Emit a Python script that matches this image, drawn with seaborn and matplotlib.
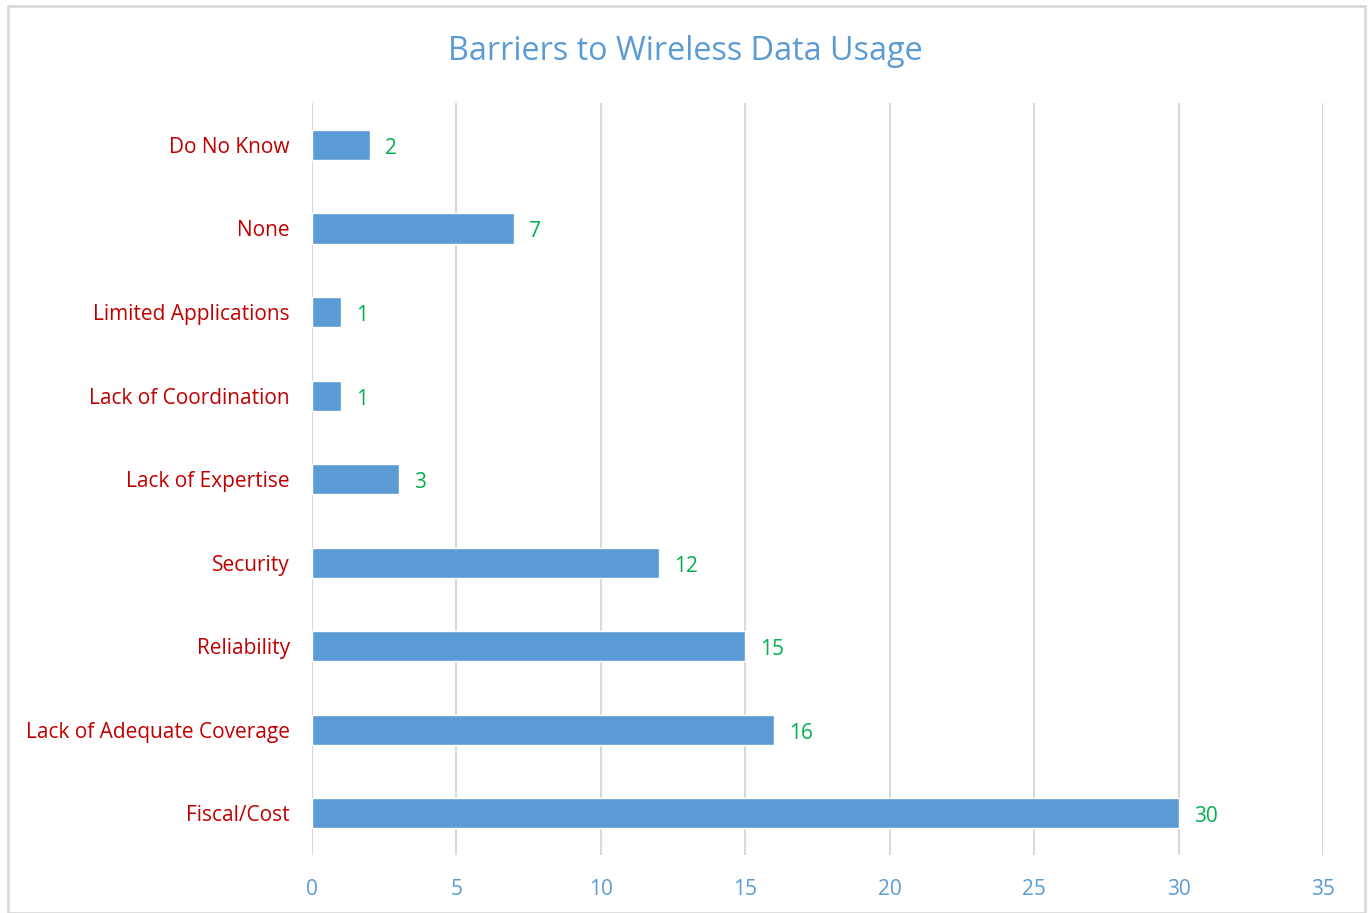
import pandas as pd
import matplotlib.pyplot as plt
import seaborn as sns
from matplotlib.patches import Rectangle

categories = ['Do No Know', 'None', 'Limited Applications', 'Lack of Coordination',
              'Lack of Expertise', 'Security', 'Reliability',
              'Lack of Adequate Coverage', 'Fiscal/Cost']
counts = [2, 7, 1, 1, 3, 12, 15, 16, 30]
x_ticks = [0, 5, 10, 15, 20, 25, 30, 35]

df = pd.DataFrame({'barrier': categories, 'count': counts})

sns.set_style('white')
plt.rcParams['font.family'] = ['Open Sans', 'DejaVu Sans']

fig = plt.figure(figsize=(13.7, 9.13), dpi=100)
ax = fig.add_axes([0.2277, 0.0635, 0.738, 0.8235])

sns.barplot(data=df, x='count', y='barrier', order=categories, orient='h',
            color='#5B9BD5', saturation=1, width=0.36, ax=ax)

ax.set_xlim(0, 35)
ax.set_ylim(8.5, -0.5)
ax.set_xticks(x_ticks)
ax.set_xticklabels([str(t) for t in x_ticks], color='#5B9BD5', fontsize=15)
ax.tick_params(axis='x', length=0, pad=17)
ax.tick_params(axis='y', length=0, pad=16, labelsize=15, labelcolor='#C00000')
ax.set_xlabel('')
ax.set_ylabel('')
ax.grid(axis='x', color='#D9D9D9', linewidth=1.5)
ax.set_axisbelow(True)
for s in ax.spines.values():
    s.set_visible(False)

for i, v in enumerate(counts):
    ax.annotate(str(v), (v, i), xytext=(11, -2.5), textcoords='offset points',
                va='center', ha='left', color='#00B050', fontsize=15)

fig.suptitle('Barriers to Wireless Data Usage', color='#5B9BD5', fontsize=23.3, y=0.962)

fig.patches.append(Rectangle((0.006, 0.0), 0.99, 0.993, transform=fig.transFigure,
                             fill=False, edgecolor='#D9D9D9', linewidth=2))

fig.savefig('out.png', dpi=100)
